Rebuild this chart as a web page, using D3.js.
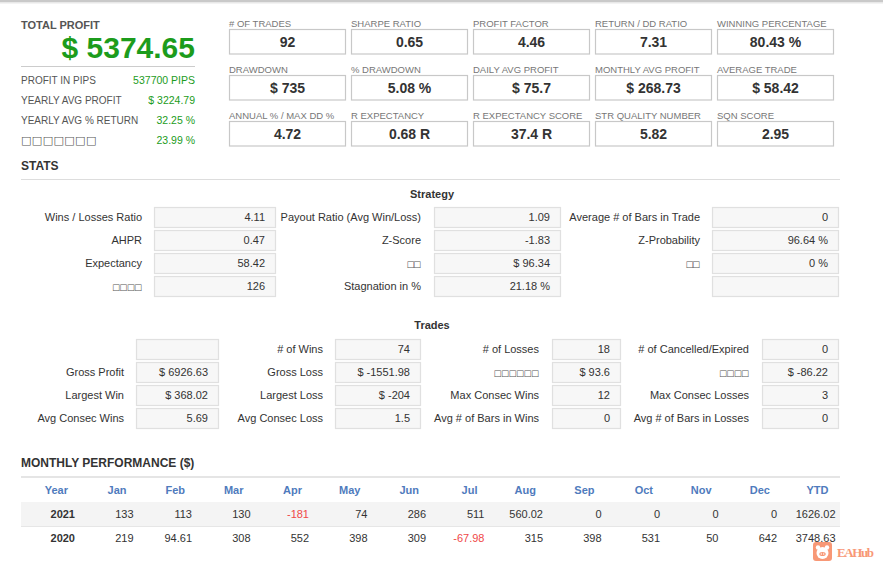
<!DOCTYPE html>
<html>
<head>
<meta charset="utf-8">
<script src="https://cdn.jsdelivr.net/npm/d3@7"></script>
<style>
  body { margin: 0; background: #fff; }
  svg { display: block; font-family: "Liberation Sans", Arial, sans-serif; }
</style>
</head>
<body>
<div class="container_main"></div>
<script>
// ---- data ----
const totalProfit = "$ 5374.65";
const summaryLabels = ["PROFIT IN PIPS", "YEARLY AVG PROFIT", "YEARLY AVG % RETURN", "□□□□□□□"];
const summaryValues = ["537700 PIPS", "$ 3224.79", "32.25 %", "23.99 %"];

const cardLabels = ["# OF TRADES", "SHARPE RATIO", "PROFIT FACTOR", "RETURN / DD RATIO", "WINNING PERCENTAGE",
  "DRAWDOWN", "% DRAWDOWN", "DAILY AVG PROFIT", "MONTHLY AVG PROFIT", "AVERAGE TRADE",
  "ANNUAL % / MAX DD %", "R EXPECTANCY", "R EXPECTANCY SCORE", "STR QUALITY NUMBER", "SQN SCORE"];
const cardValues = ["92", "0.65", "4.46", "7.31", "80.43 %",
  "$ 735", "5.08 %", "$ 75.7", "$ 268.73", "$ 58.42",
  "4.72", "0.68 R", "37.4 R", "5.82", "2.95"];

const strategyLabels = ["Wins / Losses Ratio", "Payout Ratio (Avg Win/Loss)", "Average # of Bars in Trade",
  "AHPR", "Z-Score", "Z-Probability",
  "Expectancy", "□□", "□□",
  "□□□□", "Stagnation in %", ""];
const strategyValues = ["4.11", "1.09", "0",
  "0.47", "-1.83", "96.64 %",
  "58.42", "$ 96.34", "0 %",
  "126", "21.18 %", ""];

const tradesLabels = ["", "# of Wins", "# of Losses", "# of Cancelled/Expired",
  "Gross Profit", "Gross Loss", "□□□□□□", "□□□□",
  "Largest Win", "Largest Loss", "Max Consec Wins", "Max Consec Losses",
  "Avg Consec Wins", "Avg Consec Loss", "Avg # of Bars in Wins", "Avg # of Bars in Losses"];
const tradesValues = ["", "74", "18", "0",
  "$ 6926.63", "$ -1551.98", "$ 93.6", "$ -86.22",
  "$ 368.02", "$ -204", "12", "3",
  "5.69", "1.5", "0", "0"];

const months = ["Jan", "Feb", "Mar", "Apr", "May", "Jun", "Jul", "Aug", "Sep", "Oct", "Nov", "Dec"];
const years = ["2021", "2020"];
const perf2021 = [133, 113, 130, -181, 74, 286, 511, 560.02, 0, 0, 0, 0];
const perf2020 = [219, 94.61, 308, 552, 398, 309, -67.98, 315, 398, 531, 50, 642];
const ytd = [1626.02, 3748.63];

// ---- drawing ----
const width = 883, height = 568;
const svg = d3.select(".container_main").append("svg")
  .attr("width", width).attr("height", height);

const green = "#1c9c1c", dark = "#333", grey = "#555", lite = "#777";

// top shadow bar
svg.append("rect").attr("x", 0).attr("y", 0).attr("width", width).attr("height", 2).attr("fill", "#c9c9c9");
svg.append("rect").attr("x", 0).attr("y", 2).attr("width", width).attr("height", 1.5).attr("fill", "#e8e8e8");

// text helper; the missing-glyph squares get a fixed pitch
function txt(g, x, y, s, o) {
  const t = g.append("text").attr("x", x).attr("y", y).text(s)
    .attr("font-size", o.size || 11).attr("fill", o.fill || dark)
    .attr("font-weight", o.bold ? "bold" : null)
    .attr("text-anchor", o.anchor || "start");
  if (/^□+$/.test(s)) {
    t.attr("font-family", "DejaVu Sans").attr("font-size", o.boxSize || 8.5)
      .attr("textLength", s.length * (o.pitch || 7.75) - 1).attr("lengthAdjust", "spacing")
      .attr("fill", "#555");
  }
  return t;
}

// left summary
const left = svg.append("g");
txt(left, 21, 29, "TOTAL PROFIT", {size: 11, bold: true, fill: grey});
txt(left, 195, 58, totalProfit, {size: 30, bold: true, fill: green, anchor: "end"});
left.append("line").attr("x1", 21).attr("x2", 195).attr("y1", 66.5).attr("y2", 66.5)
  .attr("stroke", "#ccc");
const sumY = d3.scaleLinear().domain([0, 1]).range([84, 104]);
summaryLabels.forEach((l, i) => {
  txt(left, 21, sumY(i), l, {size: 10, fill: grey, pitch: 10.9, boxSize: 11});
  txt(left, 195, sumY(i), summaryValues[i], {size: 10.5, fill: green, anchor: "end"});
});

// cards grid
const cardX = d3.scaleLinear().domain([0, 1]).range([229, 351]);
const cardY = d3.scaleLinear().domain([0, 1]).range([29, 75]);
const cards = svg.append("g");
cardLabels.forEach((l, i) => {
  const c = i % 5, r = Math.floor(i / 5);
  const x = cardX(c), y = cardY(r);
  txt(cards, x, y - 2, l, {size: 9.5, fill: lite});
  cards.append("rect").attr("x", x + 0.5).attr("y", y + 0.5).attr("width", 116).attr("height", 24.5)
    .attr("fill", "#fff").attr("stroke", "#c8c8c8").attr("stroke-width", 1.2);
  txt(cards, x + 58.5, y + 18, cardValues[i], {size: 14, bold: true, anchor: "middle"});
});

// STATS header
txt(svg, 21, 170, "STATS", {size: 12, bold: true});
svg.append("line").attr("x1", 21).attr("x2", 840).attr("y1", 179.5).attr("y2", 179.5)
  .attr("stroke", "#ddd");

function statGrid(title, titleY, labels, values, cols, rowTop) {
  const g = svg.append("g");
  txt(g, 432, titleY, title, {size: 11, bold: true, anchor: "middle"});
  const rowY = d3.scaleLinear().domain([0, 1]).range([rowTop, rowTop + 23]);
  const n = cols.length;
  labels.forEach((l, i) => {
    const c = i % n, r = Math.floor(i / n), col = cols[c];
    const y = rowY(r);
    if (l) txt(g, col.label, y + 14, l, {size: 11, anchor: "end"});
    g.append("rect").attr("x", col.x0 + 0.5).attr("y", y + 0.5)
      .attr("width", col.x1 - col.x0 - 1).attr("height", 20)
      .attr("fill", "#f7f7f7").attr("stroke", "#e0e0e0").attr("stroke-width", 1.2);
    if (values[i]) txt(g, col.x1 - 11, y + 14, values[i], {size: 11, anchor: "end"});
  });
}

statGrid("Strategy", 198, strategyLabels, strategyValues, [
  {label: 142, x0: 154, x1: 276},
  {label: 421, x0: 434, x1: 561},
  {label: 700, x0: 712, x1: 839}
], 207);

statGrid("Trades", 329, tradesLabels, tradesValues, [
  {label: 124, x0: 136, x1: 219},
  {label: 323, x0: 335, x1: 421},
  {label: 539, x0: 552, x1: 621},
  {label: 749, x0: 762, x1: 839}
], 339);

// monthly performance table
txt(svg, 21, 467, "MONTHLY PERFORMANCE ($)", {size: 12, bold: true});
svg.append("line").attr("x1", 21).attr("x2", 840).attr("y1", 477).attr("y2", 477)
  .attr("stroke", "#ddd").attr("stroke-width", 1.5);

const cols = ["Year"].concat(months, ["YTD"]);
const colX = d3.scaleBand().domain(cols).range([21, 840]);
const rowY = d3.scaleBand().domain(["head"].concat(years)).range([478, 550]);
const table = svg.append("g");
table.append("rect").attr("x", 21).attr("y", rowY("2021")).attr("width", 819)
  .attr("height", rowY.bandwidth()).attr("fill", "#f4f4f4");
table.append("line").attr("x1", 21).attr("x2", 840)
  .attr("y1", rowY("2020") + 0.5).attr("y2", rowY("2020") + 0.5).attr("stroke", "#e6e6e6");

const right = c => colX(c) + colX.bandwidth() - 4.5;
cols.forEach(c => {
  txt(table, right(c) - 7, rowY("head") + 16, c, {size: 11, bold: true, fill: "#4f7bbd", anchor: "end"});
});
[perf2021, perf2020].forEach((vals, k) => {
  const yr = years[k], y = rowY(yr) + 16;
  txt(table, right("Year"), y, yr, {size: 11, bold: true, anchor: "end"});
  vals.forEach((v, i) => {
    txt(table, right(months[i]), y, String(v), {size: 11, anchor: "end", fill: v < 0 ? "#f04848" : dark});
  });
  txt(table, right("YTD"), y, String(ytd[k]), {size: 11, anchor: "end"});
});

// watermark
const wm = svg.append("g").attr("transform", "translate(813,542)").attr("opacity", 0.85);
wm.append("rect").attr("width", 19).attr("height", 19).attr("rx", 3).attr("fill", "#f7875f");
wm.append("circle").attr("cx", 9.5).attr("cy", 11).attr("r", 6).attr("fill", "#fff");
wm.append("circle").attr("cx", 5).attr("cy", 5.5).attr("r", 2.2).attr("fill", "#fff");
wm.append("circle").attr("cx", 14).attr("cy", 5.5).attr("r", 2.2).attr("fill", "#fff");
wm.append("ellipse").attr("cx", 9.5).attr("cy", 12).attr("rx", 3.2).attr("ry", 2).attr("fill", "#f7875f");
wm.append("circle").attr("cx", 8.3).attr("cy", 12).attr("r", 0.7).attr("fill", "#fff");
wm.append("circle").attr("cx", 10.7).attr("cy", 12).attr("r", 0.7).attr("fill", "#fff");
wm.append("text").attr("x", 24).attr("y", 15).text("EAHub")
  .attr("font-family", "Liberation Serif").attr("font-weight", "bold").attr("font-size", 13)
  .attr("fill", "#f7875f").attr("textLength", 37);
</script>
</body>
</html>
